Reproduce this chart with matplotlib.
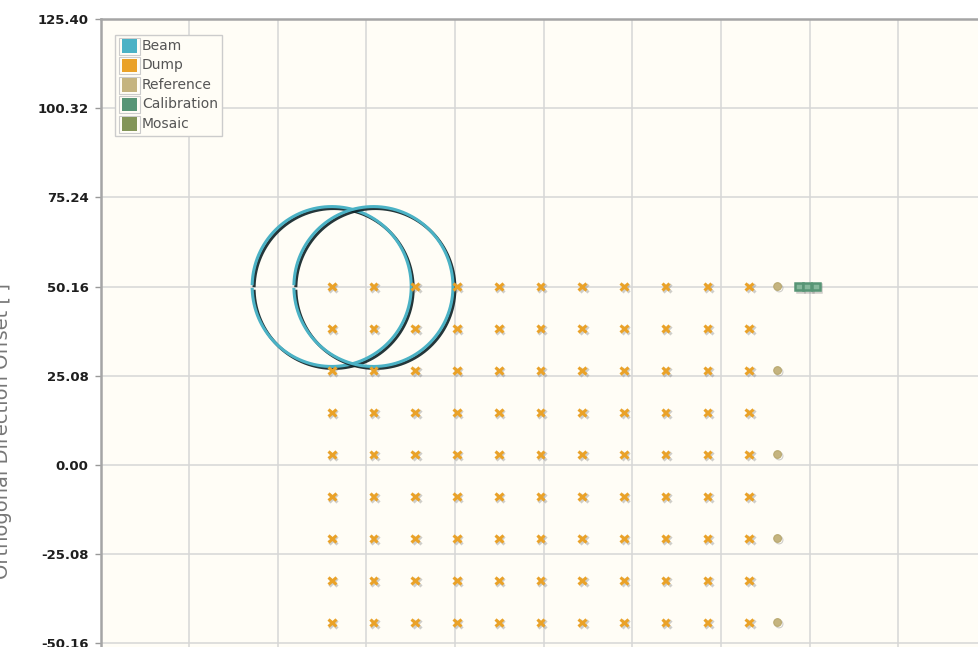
import numpy as np
import matplotlib
matplotlib.use("Agg")
import matplotlib.pyplot as plt
from matplotlib.patches import Rectangle
import matplotlib.patheffects as pe

# ---- data -------------------------------------------------------------
series_names = ["Beam", "Dump", "Reference", "Calibration", "Mosaic"]
series_colors = ["#4bb2c5", "#EAA228", "#c5b47f", "#579575", "#839557"]

y_ticks = [125.40, 100.32, 75.24, 50.16, 25.08, 0.00, -25.08, -50.16]
y_min = -100.32
x_ticks = [-75.24, -50.16, -25.08, 0.00, 25.08, 50.16, 75.24, 100.32, 125.40, 150.48, 175.56, 200.64]

# beam footprints (circles)
beam_cx = [-9.84, 1.97]
beam_cy = [50.16, 50.16]
beam_r = [22.5, 22.5]

# dump grid
dump_x = [-9.84, 1.97, 13.78, 25.59, 37.40, 49.21, 61.02, 72.83, 84.64, 96.45, 108.26]
dump_y = [50.16, 38.34, 26.52, 14.70, 2.88, -8.94, -20.76, -32.58, -44.40]

# reference points
ref_x = [116.3, 116.3, 116.3, 116.3, 116.3]
ref_y = [50.16, 26.52, 2.88, -20.76, -44.40]

# calibration points
cal_x = [122.35, 124.7, 127.1]
cal_y = [50.16, 50.16, 50.16]

# ---- figure -------------------------------------------------------------
W, H = 979, 647
fig = plt.figure(figsize=(W / 100, H / 100), dpi=100, facecolor="white")

left_px, top_px = 100.5, 19.2
xlim = (x_ticks[0], x_ticks[-1])
ylim = (y_min, y_ticks[0])
px_per_x = 3.535
px_per_y = 3.553
w_px = (xlim[1] - xlim[0]) * px_per_x
h_px = (ylim[1] - ylim[0]) * px_per_y
ax = fig.add_axes([left_px / W, (H - top_px - h_px) / H, w_px / W, h_px / H])
ax.set_facecolor("#fffdf6")
ax.set_xlim(*xlim)
ax.set_ylim(*ylim)

ax.set_yticks(y_ticks)
ax.set_yticklabels([f"{v:.2f}" for v in y_ticks])
ax.set_xticks(x_ticks)
ax.set_xticklabels([])
ax.tick_params(axis="x", length=0)
ax.tick_params(axis="y", length=4, width=1, color="#999999", pad=4.5,
               labelsize=9.5, labelcolor="#1e1e1e")
for lab in ax.get_yticklabels():
    lab.set_fontweight("bold")
ax.grid(True, color="#d6d6d6", linewidth=1.1, zorder=0)
ax.set_axisbelow(True)
for s in ["right", "bottom"]:
    ax.spines[s].set_visible(False)
for s in ["left", "top"]:
    ax.spines[s].set_color("#a5a5a5")
    ax.spines[s].set_linewidth(1.8)

# beam circles, drawn as outlines with a dark offset shadow
theta = np.linspace(np.pi + 0.035, 3 * np.pi - 0.035, 400)
for cx, cy, r in zip(beam_cx, beam_cy, beam_r):
    ax.plot(cx + r * np.cos(theta), cy + r * np.sin(theta),
            color=series_colors[0], linewidth=2.2, zorder=3,
            path_effects=[pe.SimpleLineShadow(offset=(1.4, -1.4), shadow_color="#0c2024",
                                               alpha=0.9),
                          pe.Normal()])

shadow = [pe.SimpleLineShadow(offset=(1.1, -1.1), shadow_color="#777777", alpha=0.35),
          pe.Normal()]

gx, gy = np.meshgrid(dump_x, dump_y)
ax.plot(gx.ravel(), gy.ravel(), linestyle="none", marker="x", markersize=5.5,
        markeredgewidth=2.2, color=series_colors[1], zorder=4, path_effects=shadow)

ax.plot(ref_x, ref_y, linestyle="none", marker="o", markersize=5.5,
        markerfacecolor=series_colors[2], markeredgecolor="#b8a86f",
        markeredgewidth=0.8, zorder=4, path_effects=shadow)

ax.plot(cal_x, cal_y, linestyle="none", marker="s", markersize=5.5,
        markerfacecolor="#86b89c", markeredgecolor=series_colors[3],
        markeredgewidth=1.8, zorder=4, path_effects=shadow)

# ---- legend ---------------------------------------------------------------
def fx(px):
    return px / W


def fy(py):
    return 1 - py / H


fig.add_artist(Rectangle((fx(115), fy(136)), fx(222) - fx(115), fy(35) - fy(136),
                         transform=fig.transFigure, facecolor="#fffdf6",
                         edgecolor="#cccccc", linewidth=1.0, zorder=5))
row_y = [46, 65.5, 85, 104.5, 124]
for name, col, yc in zip(series_names, series_colors, row_y):
    fig.add_artist(Rectangle((fx(119), fy(yc + 8.5)), fx(140) - fx(119), fy(yc - 8.5) - fy(yc + 8.5),
                             transform=fig.transFigure, facecolor="none",
                             edgecolor="#cccccc", linewidth=0.8, zorder=6))
    fig.add_artist(Rectangle((fx(122), fy(yc + 6.5)), fx(137) - fx(122), fy(yc - 6.5) - fy(yc + 6.5),
                             transform=fig.transFigure, facecolor=col,
                             edgecolor="none", zorder=7))
    fig.text(fx(142), fy(yc), name, fontsize=10, color="#555555",
             ha="left", va="center", zorder=8)

fig.text(fx(3), fy(431), "Orthogonal Direction Offset [']", rotation=90,
         fontsize=14, color="#777777", ha="center", va="center")

fig.savefig("out.png", dpi=100, facecolor="white")
